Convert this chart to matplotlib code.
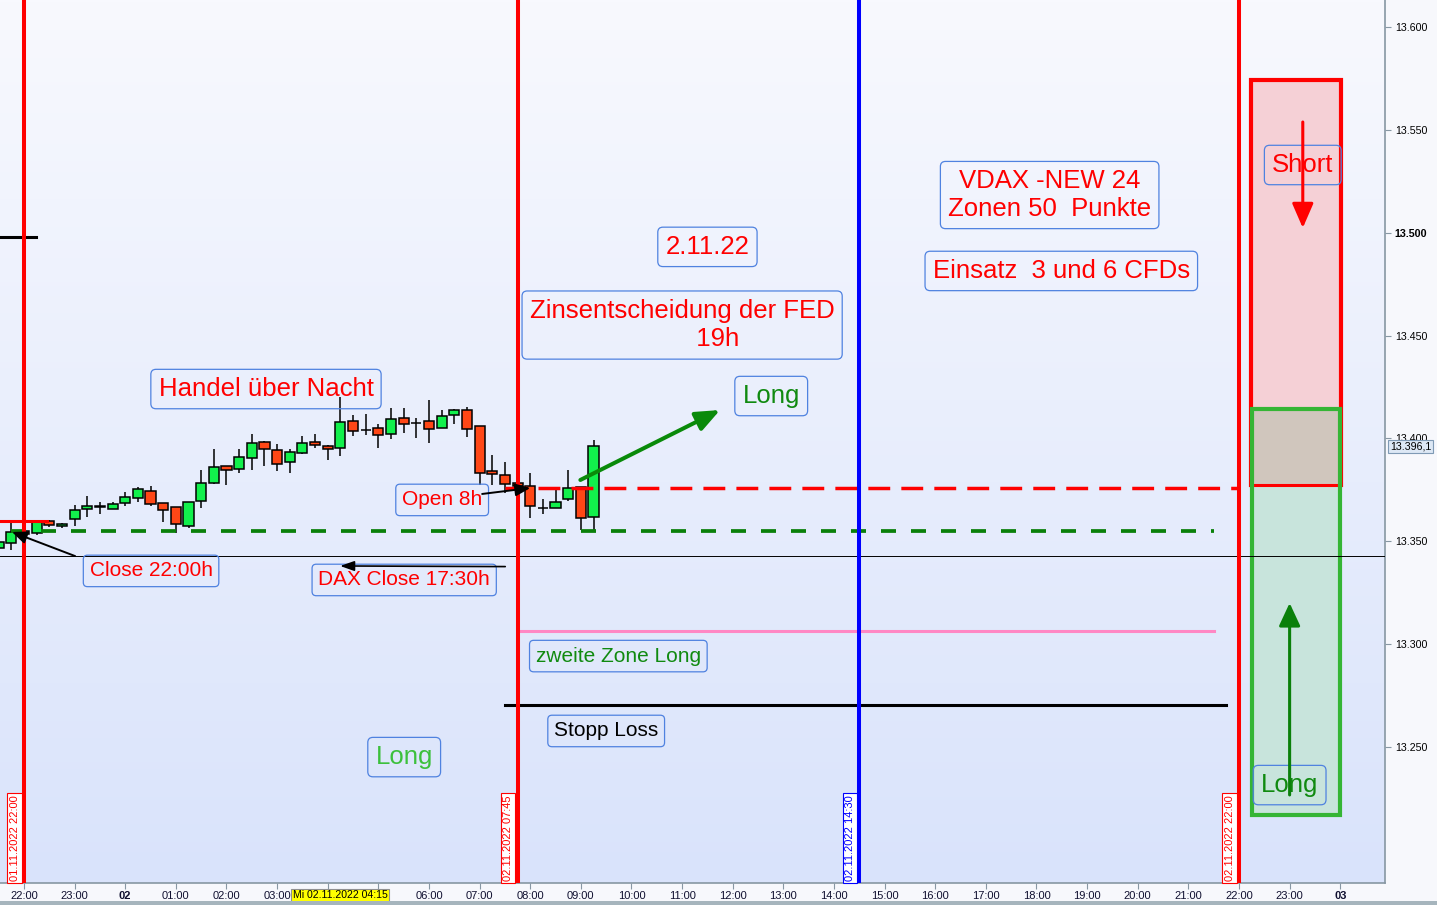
import matplotlib
matplotlib.use('Agg')
import matplotlib.pyplot as plt
import numpy as np
from matplotlib.colors import LinearSegmentedColormap
from matplotlib.patches import Rectangle

plt.rcParams['font.family'] = ['Liberation Sans', 'DejaVu Sans']

#------------------------------------------------------------------------------#
# DAX 15 min candles, x axis in hours after 01.11.2022 22:00

candle_idx = list(range(-2, 46))
opens = [13346.7, 13349.2, 13355.0, 13354.0, 13359.9, 13357.4, 13360.8, 13365.7,
         13366.9, 13365.7, 13368.6, 13371.0, 13374.4, 13368.6, 13366.7, 13357.4,
         13369.6, 13378.3, 13386.6, 13385.1, 13390.5, 13398.3, 13394.4, 13388.5,
         13392.9, 13398.3, 13396.3, 13395.4, 13408.5, 13404.1, 13405.1, 13402.2,
         13409.9, 13407.6, 13408.5, 13405.1, 13411.4, 13413.8, 13406.0, 13384.2,
         13382.2, 13378.5, 13376.9, 13366.3, 13366.2, 13370.6, 13376.4, 13361.8]
highs = [13350.6, 13358.9, 13356.0, 13360.4, 13360.4, 13358.9, 13367.6, 13372.0,
         13369.1, 13369.1, 13373.9, 13376.4, 13376.9, 13368.6, 13366.7, 13369.1,
         13384.7, 13394.9, 13386.6, 13394.9, 13402.2, 13398.8, 13397.3, 13394.9,
         13401.2, 13402.2, 13396.8, 13420.1, 13411.4, 13411.9, 13407.0, 13414.8,
         13414.8, 13409.9, 13418.7, 13413.8, 13414.3, 13415.3, 13406.0, 13392.0,
         13388.5, 13380.0, 13383.2, 13370.6, 13374.9, 13384.7, 13376.4, 13399.2]
lows = [13344.0, 13345.8, 13352.5, 13353.0, 13357.0, 13356.5, 13357.4, 13361.8,
        13363.3, 13365.5, 13367.2, 13369.1, 13367.2, 13359.4, 13354.0, 13356.5,
        13366.2, 13378.0, 13377.4, 13383.2, 13384.7, 13386.6, 13384.2, 13383.2,
        13392.4, 13395.4, 13389.5, 13391.5, 13401.2, 13401.7, 13395.4, 13399.7,
        13402.6, 13400.2, 13397.8, 13405.1, 13407.0, 13400.7, 13377.4, 13377.4,
        13373.5, 13376.0, 13361.3, 13363.3, 13366.2, 13369.6, 13355.5, 13355.5]
closes = [13349.7, 13354.5, 13353.5, 13359.4, 13357.9, 13358.4, 13365.2, 13367.2,
          13367.2, 13368.1, 13371.5, 13375.4, 13368.1, 13365.2, 13358.4, 13369.1,
          13378.3, 13386.1, 13384.7, 13391.0, 13397.8, 13394.9, 13387.6, 13393.4,
          13397.8, 13396.8, 13394.9, 13408.0, 13403.6, 13404.0, 13401.7, 13409.4,
          13407.0, 13407.4, 13404.6, 13410.9, 13413.8, 13404.6, 13383.2, 13382.7,
          13377.8, 13377.0, 13367.2, 13366.2, 13369.1, 13375.9, 13361.3, 13396.1]

hour_ticks = list(range(27))
hour_labels = ['22:00', '23:00', '02', '01:00', '02:00', '03:00', '04:00', '05:00',
               '06:00', '07:00', '08:00', '09:00', '10:00', '11:00', '12:00', '13:00',
               '14:00', '15:00', '16:00', '17:00', '18:00', '19:00', '20:00', '21:00',
               '22:00', '23:00', '03']
price_ticks = [13250, 13300, 13350, 13400, 13450, 13500, 13550, 13600]

vline_hours = [0.0, 9.75, 16.5, 24.0]
vline_colors = ['red', 'red', 'blue', 'red']
vline_labels = ['01.11.2022 22:00', '02.11.2022 07:45', '02.11.2022 14:30', '02.11.2022 22:00']

# horizontal levels and their (start, end) in hours
red_dash_level, red_dash_span = 13376.1, (9.5, 24.0)
green_dash_level, green_dash_span = 13355.0, (-0.25, 23.5)
pink_level, pink_span = 13306.4, (9.75, 23.5)
stop_level, stop_span = 13270.4, (9.5, 23.75)
old_red_level, old_red_span = 13359.9, (-0.6, 0.45)
old_black_level, old_black_span = 13497.9, (-0.6, 0.24)
cross_level = 13342.8

# zones (x0, x1, y0, y1)
short_zone = (24.23, 26.01, 13377.4, 13574.2)
long_zone = (24.25, 26.0, 13216.9, 13414.3)

cursor_label = 'Mi 02.11.2022 04:15'
cursor_hour = 6.25

#------------------------------------------------------------------------------#

fig = plt.figure(figsize=(14.37, 9.05), dpi=100, facecolor='#f7f8fc')
ax = fig.add_axes([0, 22 / 905, 1385 / 1437, 883 / 905])

x_lim = (-0.474, 26.884)
y_lim = (13183.9, 13613.1)

bg = LinearSegmentedColormap.from_list('bg', ['#f8f9fe', '#d9e3fb'])
ax.imshow(np.linspace(0, 1, 256).reshape(-1, 1), cmap=bg, extent=[0, 1, 0, 1],
          transform=ax.transAxes, aspect='auto', zorder=-10)

# candles
cx = np.array(candle_idx) * 0.25
o = np.array(opens); c = np.array(closes)
cols = np.where(c >= o, '#12f04c', '#ff4716')
ax.vlines(cx, lows, highs, color='black', lw=1.1, zorder=2)
ax.bar(cx, np.abs(c - o), width=0.2, bottom=np.minimum(o, c), color=cols,
       edgecolor='black', linewidth=1.1, zorder=3)

# zones
z = short_zone
ax.add_patch(Rectangle((z[0], z[2]), z[1] - z[0], z[3] - z[2], fc='#f5d0d6',
                       ec='red', lw=3, zorder=4))
z = long_zone
ax.add_patch(Rectangle((z[0], z[2]), z[1] - z[0], z[3] - z[2], fc='#c8e4dc',
                       ec='none', zorder=4.1))
ov0, ov1 = max(short_zone[2], long_zone[2]), min(short_zone[3], long_zone[3])
ax.add_patch(Rectangle((z[0], ov0), z[1] - z[0], ov1 - ov0, fc='#d0c6bd', ec='none', zorder=4.2))
ax.plot([z[0], z[1]], [short_zone[2]] * 2, color='red', lw=2.2, zorder=4.3)
ax.add_patch(Rectangle((z[0], z[2]), z[1] - z[0], z[3] - z[2], fc='none',
                       ec='#35b535', lw=3, zorder=4.4))

# horizontal lines
ax.plot(red_dash_span, [red_dash_level] * 2, color='red', lw=2.5, dashes=(6.3, 3.2), zorder=5)
ax.plot(green_dash_span, [green_dash_level] * 2, color='#0a800a', lw=2.7, dashes=(4, 4), zorder=5)
ax.plot(pink_span, [pink_level] * 2, color='#ff88c4', lw=2.2, zorder=5)
ax.plot(stop_span, [stop_level] * 2, color='black', lw=2.2, zorder=5)
ax.plot(old_red_span, [old_red_level] * 2, color='red', lw=2.2, zorder=5)
ax.plot(old_black_span, [old_black_level] * 2, color='black', lw=2.2, zorder=5)
ax.axhline(cross_level, color='black', lw=0.7, zorder=5.5)

# vertical lines with date labels
for h, col, lbl in zip(vline_hours, vline_colors, vline_labels):
    ax.axvline(h, color=col, lw=2.9, zorder=6)
    ax.annotate(lbl, xy=(h, 0), xycoords=('data', 'axes fraction'), xytext=(-3.2, 1.3),
                textcoords='offset points', rotation=90, ha='right', va='bottom',
                fontsize=8, color=col, zorder=6,
                bbox=dict(boxstyle='square,pad=0.2', fc='white', ec=col, lw=0.8))

#------------------------------------------------------------------------------#
# notes

def note(x, y, txt, color, size=18.5, ls=1.2):
    bb = dict(boxstyle='round,pad=0.3,rounding_size=0.2', fc='none', ec='#4f82e0', lw=0.9)
    ax.text(x, y, txt, color=color, fontsize=size, ha='center', va='center',
            zorder=7, linespacing=ls, bbox=bb)

note(4.78, 13424.0, 'Handel über Nacht', 'red')
note(2.51, 13335.6, 'Close 22:00h', 'red', 15)
note(7.51, 13331.2, 'DAX Close 17:30h', 'red', 15)
note(8.26, 13370.1, 'Open 8h', 'red', 15)
note(13.5, 13493.1, '2.11.22', 'red')
note(13.0, 13455.1, 'Zinsentscheidung der FED\n' + ' ' * 10 + '19h', 'red', ls=1.25)
note(14.76, 13420.6, 'Long', '#108a10')
note(20.26, 13518.3, 'VDAX -NEW 24\nZonen 50  Punkte', 'red')
note(20.49, 13481.4, 'Einsatz  3 und 6 CFDs', 'red')
note(11.74, 13294.2, 'zweite Zone Long', '#108a10', 15)
note(11.5, 13257.8, 'Stopp Loss', 'black', 15)
note(7.51, 13245.1, 'Long', '#3cc03c')
note(25.26, 13532.9, 'Short', 'red')
note(25.0, 13231.5, 'Long', '#108a10')

# arrows
def arrow(x0, y0, x1, y1, color, lw, hl, hw):
    ax.annotate('', xy=(x1, y1), xytext=(x0, y0), zorder=8,
                arrowprops=dict(arrowstyle='-|>,head_length=%g,head_width=%g' % (hl, hw),
                                color=color, lw=lw, mutation_scale=10, shrinkA=0, shrinkB=0))

arrow(1.01, 13342.8, -0.237, 13354.5, 'black', 1.4, 0.9, 0.38)
arrow(9.506, 13337.7, 6.245, 13338.0, 'black', 1.2, 0.85, 0.3)
arrow(9.05, 13373.0, 10.0, 13375.9, 'black', 1.4, 0.9, 0.38)
arrow(10.99, 13379.8, 13.75, 13413.8, '#0a8a0a', 2.9, 1.45, 0.6)
arrow(25.26, 13553.8, 25.26, 13502.3, 'red', 2.2, 1.5, 0.65)
arrow(25.0, 13226.7, 25.0, 13320.0, '#0a800a', 2.2, 1.4, 0.65)

#------------------------------------------------------------------------------#
# axes

ax.set_xlim(*x_lim)
ax.set_ylim(*y_lim)

for s in ['left', 'top']:
    ax.spines[s].set_visible(False)
for s in ['right', 'bottom']:
    ax.spines[s].set_color('#8797a3')
    ax.spines[s].set_linewidth(1.2)

ax.yaxis.tick_right()
ax.set_yticks(price_ticks)
ax.set_yticklabels(['%.3f' % (p / 1000) for p in price_ticks])
for t in ax.get_yticklabels():
    if t.get_text() == '13.500':
        t.set_fontweight('bold')
ax.tick_params(axis='y', direction='out', length=4, color='#8797a3', labelsize=7.7, pad=3)

# labels under the cursor box are hidden, as in the chart program
shown = ['' if abs(t - cursor_hour) < 1.0 else l for t, l in zip(hour_ticks, hour_labels)]
ax.set_xticks(hour_ticks)
ax.set_xticklabels(shown)
for t in ax.get_xticklabels():
    if len(t.get_text()) == 2:
        t.set_fontweight('bold')
        t.set_fontsize(9)
ax.tick_params(axis='x', direction='out', length=4, color='#8797a3', labelsize=8,
               pad=2, labelcolor='#101030')

ax.annotate(cursor_label, xy=(cursor_hour, 0), xycoords=('data', 'axes fraction'),
            xytext=(0, -8.7), textcoords='offset points', ha='center', va='center',
            fontsize=7.6, zorder=9, annotation_clip=False,
            bbox=dict(boxstyle='square,pad=0.15', fc='#ffff00', ec='#909090', lw=0.8))

last = closes[-1]
last_txt = ('%.1f' % last).replace('.', ',')
last_txt = last_txt[:2] + '.' + last_txt[2:]
ax.annotate(last_txt, xy=(1, last), xycoords=('axes fraction', 'data'), xytext=(3.5, 0),
            textcoords='offset points', ha='left', va='center', fontsize=7.7, zorder=9,
            annotation_clip=False,
            bbox=dict(boxstyle='square,pad=0.15', fc='#dde8f5', ec='#7f9ab5', lw=0.8))

fig.patches.append(Rectangle((0, 0), 1, 4 / 905, transform=fig.transFigure,
                             fc='#a6b5bd', ec='none'))

fig.savefig('out.png', dpi=100, facecolor=fig.get_facecolor())
